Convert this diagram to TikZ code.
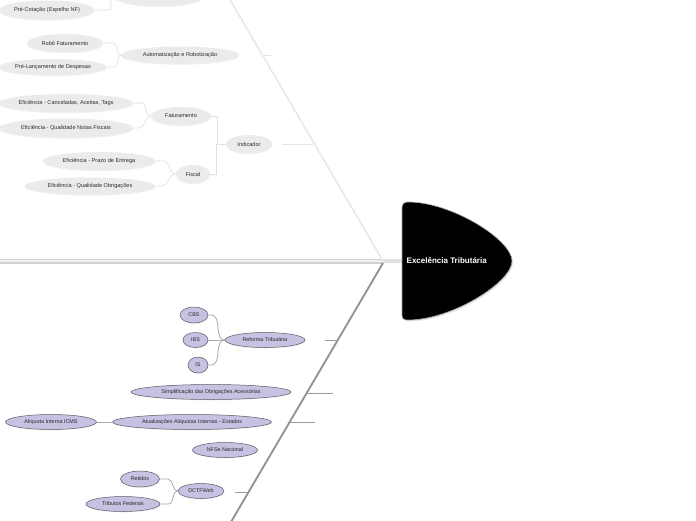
\documentclass[tikz,border=0pt]{standalone}
\usepackage{fontspec}
\setmainfont{Liberation Sans}
\usetikzlibrary{shapes.geometric,shadows}
\definecolor{ufill}{RGB}{235,235,235}
\definecolor{utext}{RGB}{45,45,45}
\definecolor{uline}{RGB}{224,224,224}
\definecolor{lfill}{RGB}{199,194,226}
\definecolor{ldraw}{RGB}{90,90,100}
\definecolor{lline}{RGB}{170,170,170}
\begin{document}
\begin{tikzpicture}[x=1pt,y=-1pt,
  sz/.style 2 args={minimum width=#1pt, minimum height=#2pt},
  unode/.style={ellipse, fill=ufill, draw=none, inner sep=0pt, text=utext,
    font=\fontsize{5.6}{6.5}\selectfont,
    drop shadow={opacity=0.12, shadow xshift=0pt, shadow yshift=-1.2pt}},
  lnode/.style={ellipse, fill=lfill, draw=ldraw, line width=0.5pt, inner sep=0pt,
    text=black!85, font=\fontsize{5.4}{6.5}\selectfont,
    drop shadow={opacity=0.12, shadow xshift=0.4pt, shadow yshift=-1pt}},
  uconn/.style={draw=uline, line width=0.7pt},
  lconn/.style={draw=lline, line width=0.8pt},
  utick/.style={draw=black!10, line width=0.7pt},
  ltick/.style={draw=black!38, line width=1pt},
]
\useasboundingbox (0,0) rectangle (696,520);
\clip (0,0) rectangle (696,520);

% skeleton coordinates
\coordinate (sp) at (383,261);
\coordinate (sp2) at (383,263);
\coordinate (ub) at (229,-2);
\coordinate (lb) at (231,522);
\coordinate (cw) at (403,261);

% bones
\draw[line width=5pt, draw=black!18] (0,261) -- (sp);
\draw[line width=2.6pt, draw=black!6] (0,261) -- (sp);
\draw[line width=1.6pt, draw=black!9] (ub) -- (sp);
\draw[line width=1.9pt, draw=black!42] (sp2) -- (lb);
\draw[line width=4pt, draw=black!12] (sp) -- (cw);

% central node
\path[fill=black, draw=black!35, line width=0.6pt,
  drop shadow={opacity=0.2, shadow xshift=1pt, shadow yshift=-1.5pt}]
  (402,315) -- (402,208) .. controls (402,204) and (404,202) .. (408,202)
  .. controls (452,202) and (512,240) .. (512,261)
  .. controls (512,282) and (452,320) .. (408,320)
  .. controls (404,320) and (402,319) .. (402,315) -- cycle;
\node[text=white, font=\fontsize{8}{9}\selectfont\bfseries, anchor=west, inner sep=0pt] (core) at (406.5,261) {Excelência Tributária};

% upper nodes
\node[unode, sz={92}{22}] (topn) at (159,-5) {};
\node[unode, sz={95}{19}] (pc) at (47,10) {Pré-Cotação (Espelho NF)};
\node[unode, sz={76}{18}] (rf) at (65,43) {Robô Faturamento};
\node[unode, sz={118}{17}] (au) at (180,55) {Automatização e Robotização};
\node[unode, sz={106}{16}] (pl) at (53,67) {Pré-Lançamento de Despesas};
\node[unode, sz={134}{18}] (e1) at (66,103) {Eficiência - Canceladas, Aceitas, Tags};
\node[unode, sz={134}{19}] (e2) at (66,128) {Eficiência - Qualidade Notas Fiscais};
\node[unode, sz={60}{18}] (fa) at (181,116) {Faturamento};
\node[unode, sz={46}{18}] (ind) at (249,144) {Indicador};
\node[unode, sz={112}{18}] (e3) at (99,161) {Eficiência - Prazo de Entrega};
\node[unode, sz={34}{18}] (fi) at (193,174) {Fiscal};
\node[unode, sz={130}{17}] (e4) at (90,186) {Eficiência - Qualidade Obrigações};

% upper connectors
\draw[uconn] (pc.east) -- ++(14,0) to[out=0,in=180] (topn.west);
\draw[uconn] (rf.east) -- ++(10,0) to[out=0,in=180] (au.west);
\draw[uconn] (pl.east) -- ++(8,0) to[out=0,in=180] (au.west);
\draw[uconn] (e1.east) -- ++(8,0) to[out=0,in=180] (fa.west);
\draw[uconn] (e2.east) -- ++(6,0) to[out=0,in=180] (fa.west);
\draw[uconn] (e3.east) -- ++(8,0) to[out=0,in=180] (fi.west);
\draw[uconn] (e4.east) -- ++(6,0) to[out=0,in=180] (fi.west);
\draw[uconn] (fa.east) -- ++(6,0) |- (ind.west);
\draw[uconn] (fi.east) -- ++(6,0) |- (ind.west);

% upper ticks
\coordinate (tia) at (282,144);
\coordinate (tib) at (313,144);
\draw[utick] (tia) -- (tib);
\coordinate (taa) at (264,55);
\coordinate (tab) at (271,55);
\draw[utick] (taa) -- (tab);

% lower nodes
\node[lnode, sz={28}{16}] (cbs) at (194,315) {CBS};
\node[lnode, sz={25}{15}] (ibs) at (195.5,340) {IBS};
\node[lnode, sz={20}{16}] (is) at (198,365) {IS};
\node[lnode, sz={80}{15}] (rt) at (265,340) {Reforma Tributária};
\node[lnode, sz={160}{15}] (si) at (211,392) {Simplificação das Obrigações Acessórias};
\node[lnode, sz={91}{15}] (al) at (51,422) {Alíquota Interna ICMS};
\node[lnode, sz={159}{15}] (at) at (192,422) {Atualizações Alíquotas Internas - Estados};
\node[lnode, sz={65}{15}] (nf) at (225,450) {NFSe Nacional};
\node[lnode, sz={39}{16}] (re) at (140,479) {Retidos};
\node[lnode, sz={46}{15}] (dc) at (201,491) {DCTFWeb};
\node[lnode, sz={74}{15}] (tf) at (123,504) {Tributos Federais};

% lower connectors
\draw[lconn] (cbs.east) -- ++(3,0) to[out=0,in=180] (rt.west);
\draw[lconn] (ibs.east) -- (rt.west);
\draw[lconn] (is.east) -- ++(3,0) to[out=0,in=180] (rt.west);
\draw[lconn] (al.east) -- (at.west);
\draw[lconn] (re.east) -- ++(8,0) to[out=0,in=180] (dc.west);
\draw[lconn] (tf.east) -- ++(8,0) to[out=0,in=180] (dc.west);

% lower ticks
\coordinate (tra) at (325,340);
\coordinate (trb) at (337,340);
\draw[ltick] (tra) -- (trb);
\coordinate (tsa) at (305,393);
\coordinate (tsb) at (333,393);
\draw[ltick] (tsa) -- (tsb);
\coordinate (tua) at (288,422);
\coordinate (tub) at (315,422);
\draw[ltick] (tua) -- (tub);
\coordinate (tda) at (235,492);
\coordinate (tdb) at (248,492);
\draw[ltick] (tda) -- (tdb);
\end{tikzpicture}
\end{document}
